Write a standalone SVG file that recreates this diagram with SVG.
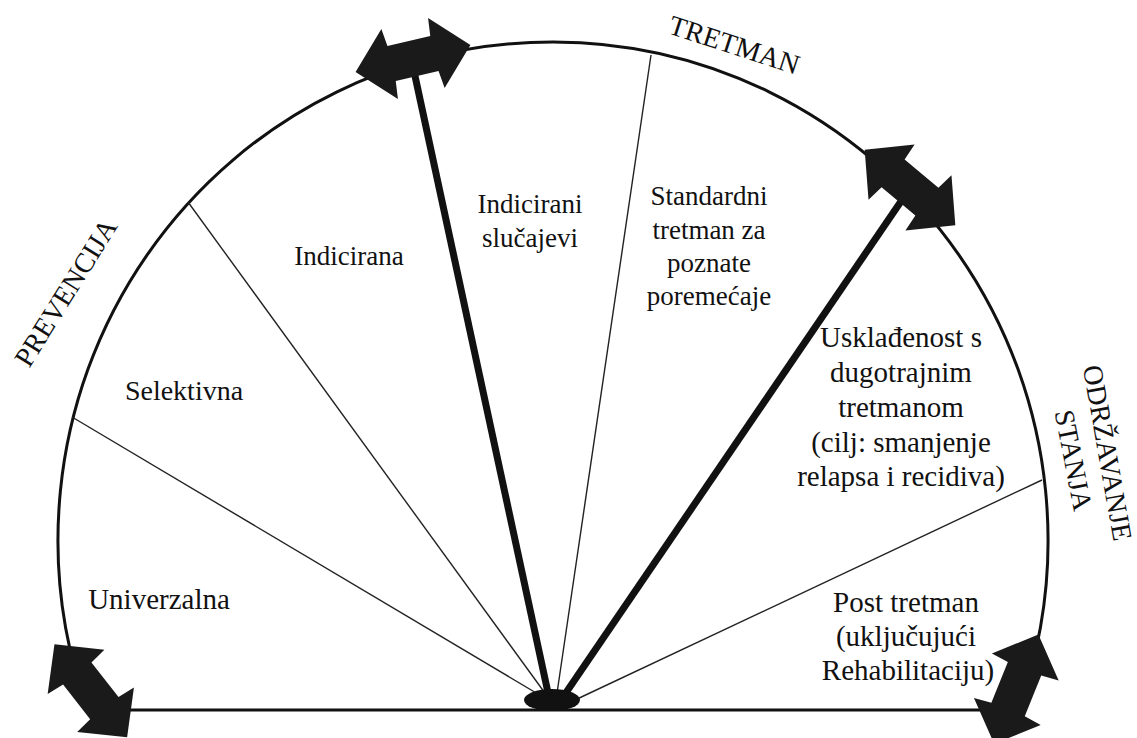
<svg xmlns="http://www.w3.org/2000/svg" xmlns:xlink="http://www.w3.org/1999/xlink" width="1137" height="738" viewBox="0 0 1137 738">
  <style>
    text { font-family: 'Liberation Serif', 'Times New Roman', serif; fill: #111; text-anchor: middle; }
    .s29 { font-size: 29px; }
    .s27 { font-size: 27px; }
    .s28 { font-size: 28px; }
    .outline { fill: none; stroke: #111; stroke-width: 3; }
    .thin { stroke: #222; stroke-width: 1.4; fill: none; }
    .thick { stroke: #111; stroke-width: 7; fill: none; }
    .arrow { fill: #1a1a1a; }
  </style>
  <defs>
    <path id="dblarrow" d="M -59,0 L -24,-36 L -22,-18 L 22,-18 L 24,-36 L 59,0 L 24,36 L 22,18 L -22,18 L -24,36 Z"/>
  </defs>
  <rect width="1137" height="738" fill="#fff"/>

  <g id="frame">
    <path class="outline" d="M 88.5,712 A 495 498 0 1 1 1017.5,712"/>
    <line class="outline" x1="88" y1="710" x2="1018" y2="710" stroke-width="3.5"/>
  </g>

  <g id="connectors">
    <line class="thin" x1="72" y1="417" x2="548" y2="700"/>
    <line class="thin" x1="188" y1="202" x2="550" y2="700"/>
    <line class="thick" x1="412" y1="62" x2="550" y2="702"/>
    <line class="thin" x1="651" y1="55" x2="556" y2="700"/>
    <line class="thick" x1="906" y1="194" x2="561" y2="700"/>
    <line class="thin" x1="1042" y1="480" x2="575" y2="700"/>
  </g>

  <g id="hub">
    <ellipse cx="552" cy="700" rx="28" ry="11" fill="#111"/>
  </g>

  <g id="arrows">
    <use xlink:href="#dblarrow" class="arrow" transform="translate(413,58.5) rotate(-13.3)"/>
    <use xlink:href="#dblarrow" class="arrow" transform="translate(910,187.5) rotate(39.8)"/>
    <use xlink:href="#dblarrow" class="arrow" transform="translate(90.8,690.8) rotate(52)"/>
    <use xlink:href="#dblarrow" class="arrow" transform="translate(1016.3,689.2) rotate(112)"/>
  </g>

  <g id="node-univerzalna">
    <text class="s29" x="159" y="609">Univerzalna</text>
  </g>
  <g id="node-selektivna">
    <text class="s28" x="184" y="400">Selektivna</text>
  </g>
  <g id="node-indicirana">
    <text class="s27" x="349" y="265">Indicirana</text>
  </g>
  <g id="node-indicirani-slucajevi">
    <text class="s27" x="530" y="213">Indicirani</text>
    <text class="s27" x="530" y="246.5">slučajevi</text>
  </g>
  <g id="node-standardni">
    <text class="s27" x="709" y="205">Standardni</text>
    <text class="s27" x="709" y="238.5">tretman za</text>
    <text class="s27" x="709" y="272">poznate</text>
    <text class="s27" x="709" y="305">poremećaje</text>
  </g>
  <g id="node-uskladenost">
    <text class="s29" x="901" y="347">Usklađenost s</text>
    <text class="s29" x="901" y="382">dugotrajnim</text>
    <text class="s29" x="901" y="417">tretmanom</text>
    <text class="s29" x="901" y="451.5">(cilj: smanjenje</text>
    <text class="s29" x="901" y="486">relapsa i recidiva)</text>
  </g>
  <g id="node-post-tretman">
    <text class="s29" x="906" y="611.5">Post tretman</text>
    <text class="s29" x="906" y="645.5">(uključujući</text>
    <text class="s29" x="908" y="679.5">Rehabilitaciju)</text>
  </g>

  <g id="label-prevencija">
    <text class="s28" transform="translate(73.7,297.4) rotate(-58)">PREVENCIJA</text>
  </g>
  <g id="label-tretman">
    <text class="s28" transform="translate(731.3,53.8) rotate(18)">TRETMAN</text>
  </g>
  <g id="label-odrzavanje-stanja">
    <text class="s28" transform="translate(1098.3,454.6) rotate(80)">ODRŽAVANJE</text>
    <text class="s28" transform="translate(1064.3,462.1) rotate(79)">STANJA</text>
  </g>
</svg>
